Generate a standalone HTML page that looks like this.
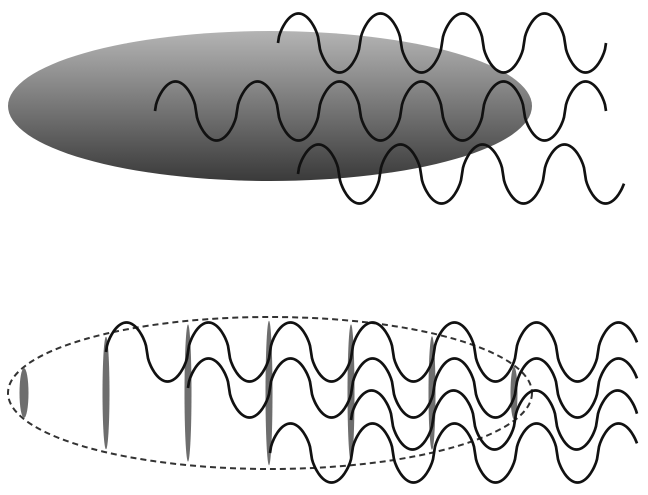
<!DOCTYPE html>
<html><head><meta charset="utf-8"><style>
html,body{margin:0;padding:0;background:#fff;width:648px;height:495px;overflow:hidden}
svg{display:block}
</style></head><body>
<svg id="fig" width="648" height="495" viewBox="0 0 648 495" xmlns="http://www.w3.org/2000/svg">
<defs>
<linearGradient id="g" x1="0" y1="0" x2="0" y2="1">
<stop offset="0" stop-color="#b4b4b4"/><stop offset="1" stop-color="#3a3a3a"/>
</linearGradient>
</defs>
<ellipse cx="270" cy="106" rx="262" ry="75" fill="url(#g)"/>
<g id="top"></g>
<ellipse cx="270" cy="393" rx="262" ry="76" fill="none" stroke="#333" stroke-width="2" stroke-dasharray="6,4"/>
<g id="lenses"></g>
<g id="bottom"></g>
</svg>
<script>
const topStarts=[278,155,298];
const topMids=[43,111,174];
const topEnds=[606,606,624];
const botStarts=[106,188,351,270];
const botMids=[352,388,420,453];
const botEnd=637;
const lensX=[24,106,188,269,351,432,514];
const P=82, A=29.5;
const NS='http://www.w3.org/2000/svg';
function wavePath(x0,x1,mid){
  let d='';
  for(let x=x0;x<=x1+0.01;x+=1){
    const s=Math.sin(2*Math.PI*(x-x0)/P);
    const y=mid-A*Math.sign(s)*Math.pow(Math.abs(s),0.6);
    d+=(x===x0?'M':'L')+x.toFixed(1)+','+y.toFixed(1);
  }
  return d;
}
function addWave(g,x0,x1,mid){
  const p=document.createElementNS(NS,'path');
  p.setAttribute('d',wavePath(x0,x1,mid));
  p.setAttribute('fill','none');p.setAttribute('stroke','#111');p.setAttribute('stroke-width','2.7');
  
  
  g.appendChild(p);
}
const gt=document.getElementById('top');
topStarts.forEach((s,i)=>addWave(gt,s,topEnds[i],topMids[i]));
const gl=document.getElementById('lenses');
lensX.forEach(x=>{
  const dx=(x-270)/262;
  const h=76*Math.sqrt(Math.max(0,1-dx*dx))*0.95;
  const e=document.createElementNS(NS,'ellipse');
  e.setAttribute('cx',x);e.setAttribute('cy',393);
  e.setAttribute('rx',x<50?4.5:3.5);e.setAttribute('ry',h);
  e.setAttribute('fill','#6e6e6e');
  
  
  gl.appendChild(e);
});
const gb=document.getElementById('bottom');
botStarts.forEach((s,i)=>addWave(gb,s,botEnd,botMids[i]));
</script>
</body></html>
